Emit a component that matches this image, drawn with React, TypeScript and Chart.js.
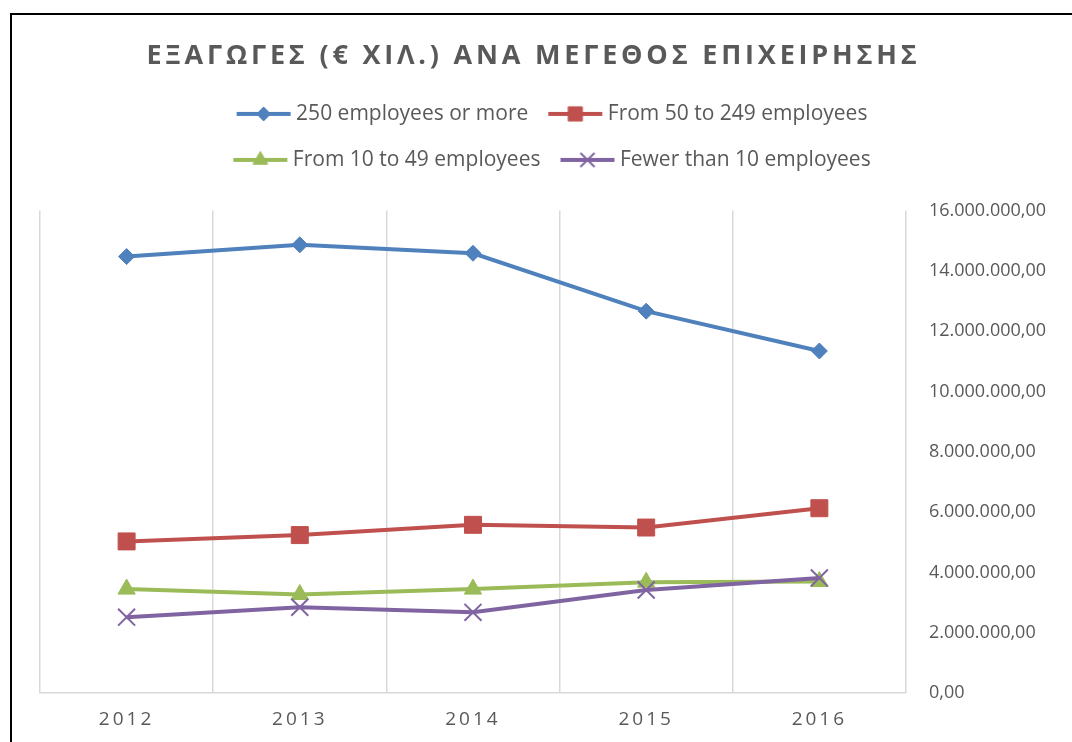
import React, { useEffect, useRef } from 'react';
import { Chart, registerables, layouts } from 'chart.js';
import { drawPoint } from 'chart.js/helpers';

Chart.register(...registerables);

// ---------- data ----------
const TITLE = 'ΕΞΑΓΩΓΕΣ (€ ΧΙΛ.) ΑΝΑ ΜΕΓΕΘΟΣ ΕΠΙΧΕΙΡΗΣΗΣ';
const YEARS = ['2012', '2013', '2014', '2015', '2016'];
const SERIES_NAMES = [
  '250 employees or more',
  'From 50 to 249 employees',
  'From 10 to 49 employees',
  'Fewer than 10 employees',
];
const LARGE = [14470000, 14860000, 14580000, 12660000, 11340000];
const MEDIUM = [5030000, 5240000, 5580000, 5490000, 6130000];
const SMALL = [3450000, 3270000, 3450000, 3680000, 3700000];
const MICRO = [2520000, 2850000, 2680000, 3420000, 3820000];
const Y_MIN = 0;
const Y_MAX = 16000000;
const Y_STEP = 2000000;

// ---------- styles ----------
const COLORS = ['#4F81BD', '#C0504D', '#9BBB59', '#8064A2'];
const POINT_STYLES = ['rectRot', 'rect', 'triangle', 'crossRot'];
const POINT_RADII = [8, 12, 10, 12];
const LEGEND_RADII = [7, 10, 8.5, 10];
const TEXT_COLOR = '#595959';
const GRID_COLOR = '#d9d9d9';
const FONT = "'Open Sans', 'DejaVu Sans', sans-serif";
const TITLE_SHIFT = -21;
const LEGEND_ROW_WIDTH = 800;
const SPACER_HEIGHT = 30;

function formatValue(v: number): string {
  const s = Math.round(v).toString().replace(/\B(?=(\d{3})+(?!\d))/g, '.');
  return s + ',00';
}

function makeIcon(i: number): HTMLCanvasElement {
  const c = document.createElement('canvas');
  c.width = 58;
  c.height = 24;
  const ctx = c.getContext('2d')!;
  ctx.strokeStyle = COLORS[i];
  ctx.fillStyle = COLORS[i];
  ctx.lineWidth = 4;
  ctx.lineCap = 'butt';
  ctx.beginPath();
  ctx.moveTo(2, 12);
  ctx.lineTo(56, 12);
  ctx.stroke();
  ctx.lineWidth = i === 3 ? 2 : 1;
  drawPoint(ctx, { pointStyle: POINT_STYLES[i] as any, radius: LEGEND_RADII[i], rotation: 0, borderWidth: i === 3 ? 2 : 1 } as any, 29, 12);
  return c;
}

const tweaks = {
  id: 'tweaks',
  beforeLayout(chart: any) {
    const lg = chart.legend;
    if (lg && !lg.__wrap) {
      const orig = lg.fit;
      lg.fit = function (this: any) {
        const mw = this.maxWidth;
        this.maxWidth = Math.min(mw, LEGEND_ROW_WIDTH);
        orig.call(this);
        this.maxWidth = mw;
      };
      lg.__wrap = true;
    }
    const tb = chart.titleBlock;
    if (tb && !tb.__wrap) {
      const od = tb.draw;
      tb.draw = function (this: any, ...a: any[]) {
        const ctx = this.ctx;
        ctx.save();
        ctx.letterSpacing = '3.8px';
        ctx.translate(TITLE_SHIFT, 0);
        od.apply(this, a);
        ctx.restore();
      };
      tb.__wrap = true;
    }
    const xs = chart.scales && chart.scales.x;
    if (xs && !xs.__wrap) {
      const dl = xs.drawLabels;
      xs.drawLabels = function (this: any, ...a: any[]) {
        const ctx = this.ctx;
        ctx.save();
        ctx.letterSpacing = '3px';
        dl.apply(this, a);
        ctx.restore();
      };
      xs.__wrap = true;
    }
  },
};

const spacerPlugin = {
  id: 'spacer',
  beforeInit(chart: any) {
    const box: any = {
      position: 'top',
      weight: 500,
      fullSize: true,
      options: {},
      width: 0,
      height: 0,
      top: 0,
      left: 0,
      right: 0,
      bottom: 0,
      isHorizontal: () => true,
      update(maxWidth: number) {
        this.width = maxWidth;
        this.height = SPACER_HEIGHT;
      },
      draw() {},
    };
    layouts.addBox(chart, box);
  },
};

export default function App() {
  const ref = useRef<HTMLCanvasElement>(null);

  useEffect(() => {
    if (!ref.current) return;
    const icons = [0, 1, 2, 3].map(makeIcon);
    const seriesData = [LARGE, MEDIUM, SMALL, MICRO];
    const chart = new Chart(ref.current, {
      type: 'line',
      data: {
        labels: YEARS,
        datasets: seriesData.map((d, i) => ({
          label: SERIES_NAMES[i],
          data: d,
          borderColor: COLORS[i],
          backgroundColor: COLORS[i],
          borderWidth: 4,
          tension: 0,
          pointStyle: POINT_STYLES[i] as any,
          pointRadius: POINT_RADII[i],
          pointHoverRadius: POINT_RADII[i],
          pointBackgroundColor: COLORS[i],
          pointBorderColor: COLORS[i],
          pointBorderWidth: i === 3 ? 2 : 1,
          order: 4 - i,
        })),
      },
      options: {
        responsive: false,
        animation: false,
        layout: { padding: { left: 40, right: 3, top: 0, bottom: 4 } },
        plugins: {
          title: {
            display: true,
            text: TITLE,
            color: TEXT_COLOR,
            font: { family: FONT, size: 27, weight: 'bold' },
            padding: { top: 40, bottom: 6 },
          },
          legend: {
            display: true,
            position: 'top',
            labels: {
              color: TEXT_COLOR,
              font: { family: FONT, size: 21 },
              usePointStyle: true,
              pointStyleWidth: 44,
              padding: 25,
              sort: (a: any, b: any) => a.datasetIndex - b.datasetIndex,
              generateLabels: (ch: any) => {
                const items = (Chart.defaults.plugins.legend.labels as any).generateLabels(ch);
                items.forEach((it: any) => {
                  it.pointStyle = icons[it.datasetIndex];
                });
                return items;
              },
            },
          },
          tooltip: { enabled: false },
        },
        scales: {
          x: {
            type: 'category',
            offset: true,
            grid: { display: true, offset: true, color: GRID_COLOR, lineWidth: 1.5, drawTicks: false },
            border: { display: true, color: GRID_COLOR, width: 1.5 },
            ticks: { color: TEXT_COLOR, font: { family: FONT, size: 19 }, padding: 15 },
          },
          y: {
            position: 'right',
            min: Y_MIN,
            max: Y_MAX,
            grid: { display: false, drawTicks: false },
            border: { display: false },
            ticks: {
              stepSize: Y_STEP,
              color: TEXT_COLOR,
              font: { family: FONT, size: 18 },
              padding: 23,
              callback: (v: any) => formatValue(Number(v)),
            },
          },
        },
      },
      plugins: [tweaks, spacerPlugin as any],
    });
    return () => chart.destroy();
  }, []);

  return (
    <div style={{ position: 'fixed', left: 0, top: 0, width: 1072, height: 742, overflow: 'hidden', background: '#fff' }}>
      <div
        style={{
          position: 'absolute',
          left: 10,
          top: 13,
          width: 3000,
          height: 3000,
          borderLeft: '2px solid #000',
          borderTop: '2px solid #000',
        }}
      />
      <canvas ref={ref} width={1072} height={750} style={{ position: 'absolute', left: 0, top: 0 }} />
    </div>
  );
}
